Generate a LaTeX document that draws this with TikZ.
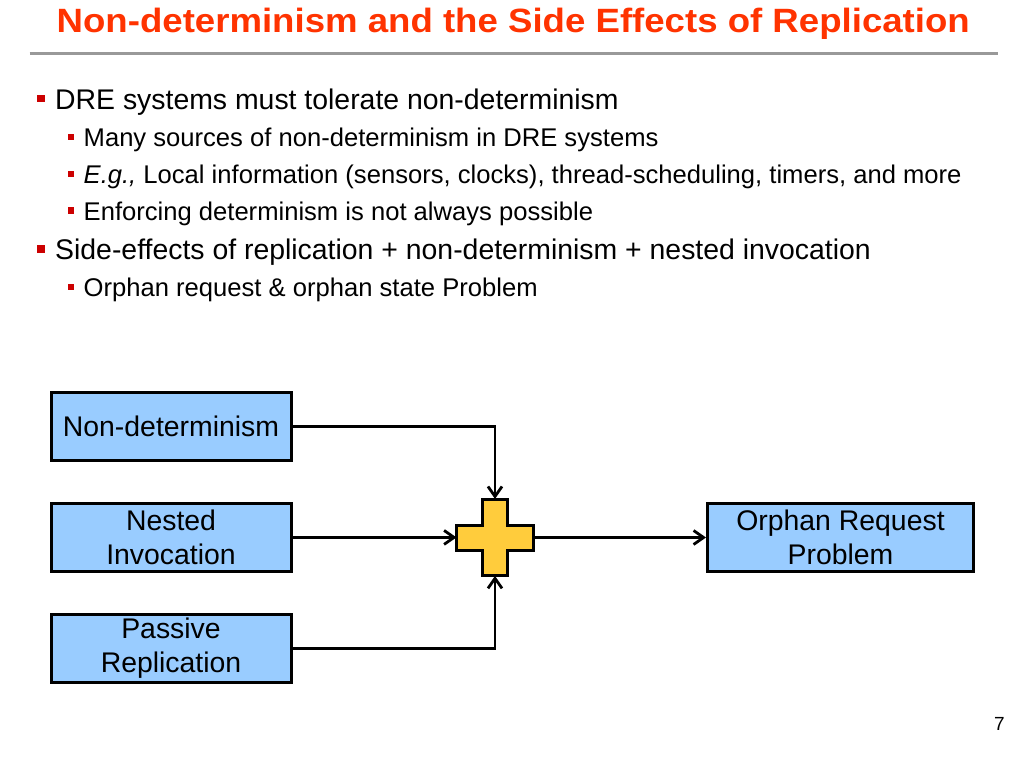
\documentclass[tikz,border=0pt]{standalone}
\usepackage{fontspec}
\setmainfont{Liberation Sans}
\usetikzlibrary{arrows.meta}
\definecolor{titlered}{HTML}{FF3300}
\definecolor{bulred}{HTML}{CC0000}
\definecolor{boxblue}{HTML}{99CCFF}
\definecolor{plusyellow}{HTML}{FFCC3C}
\definecolor{rulegray}{HTML}{999999}
\begin{document}
\begin{tikzpicture}[x=1pt,y=-1pt,
  txt1/.style={anchor=base west,inner sep=0pt,font=\fontsize{28.4}{34}\selectfont},
  txt2/.style={anchor=base west,inner sep=0pt,font=\fontsize{25.6}{30}\selectfont},
  bulA/.style={fill=bulred,inner sep=0pt,minimum size=7.5pt},
  bulB/.style={fill=bulred,inner sep=0pt,minimum size=6.2pt},
  blkbox/.style={draw=black,line width=3pt,fill=boxblue,minimum height=68pt,
     inner sep=0pt,align=center,font=\fontsize{28.4}{34}\selectfont},
  conn/.style={draw=black,line width=2.8pt,-{Straight Barb[length=10pt,width=14pt,line width=2.8pt]}},
]
\useasboundingbox (0,0) rectangle (1024,768);
\fill[white] (0,0) rectangle (1024,768);
% title
\node[anchor=base west,inner sep=0pt,text=titlered] (title) at (56.5,32.5)
  {\scalebox{1}[0.92]{\fontsize{36.6}{40}\selectfont\bfseries Non-determinism and the Side Effects of Replication}};
\draw[rulegray,line width=3.5pt] (29.5,53.3) coordinate (r1) -- (998,53.3) coordinate (r2);
% bullets
\node[bulA] (b1) at (41,98.7) {};
\node[txt1] (t1) at (55,109) {DRE systems must tolerate non-determinism};
\node[bulB] (b2) at (71,137) {};
\node[txt2] (t2) at (83.5,146.5) {Many sources of non-determinism in DRE systems};
\node[bulB] (b3) at (71,173.8) {};
\node[txt2] (t3) at (83.5,183.3) {\textit{E.g.,} Local information (sensors, clocks), thread-scheduling, timers, and more};
\node[bulB] (b4) at (71,210.5) {};
\node[txt2] (t4) at (83.5,220) {Enforcing determinism is not always possible};
\node[bulA] (b5) at (41,249) {};
\node[txt1] (t5) at (55,259.3) {Side-effects of replication + non-determinism + nested invocation};
\node[bulB] (b6) at (71,287.2) {};
\node[txt2] (t6) at (83.5,296.7) {Orphan request \& orphan state Problem};
% diagram boxes
\node[blkbox,minimum width=240pt] (nd) at (171,426.5) {Non-determinism};
\node[blkbox,minimum width=240pt] (ni) at (171,537.5) {Nested\\Invocation};
\node[blkbox,minimum width=240pt] (pr) at (171,648.5) {Passive\\Replication};
\node[blkbox,minimum width=266pt] (orp) at (840.5,537.5) {Orphan Request\\Problem};
% plus
\node[inner sep=0pt,minimum size=76.6pt] (plus) at (495,537.4) {};
\draw[black,line width=3pt,fill=plusyellow,line join=miter]
  (482.3,499) -- (507.7,499) -- (507.7,525) -- (533.3,525) -- (533.3,550)
  -- (507.7,550) -- (507.7,575.7) -- (482.3,575.7) -- (482.3,550)
  -- (456.7,550) -- (456.7,525) -- (482.3,525) -- cycle;
% connectors
\draw[conn] (nd.east) -| (plus.north);
\draw[conn] (ni.east) -- (plus.west);
\draw[conn] (pr.east) -| (plus.south);
\draw[conn] (plus.east) -- (orp.west);
% page number
\node[anchor=base east,inner sep=0pt,font=\fontsize{19}{22}\selectfont] (pg) at (1005,730) {7};
\end{tikzpicture}
\end{document}
